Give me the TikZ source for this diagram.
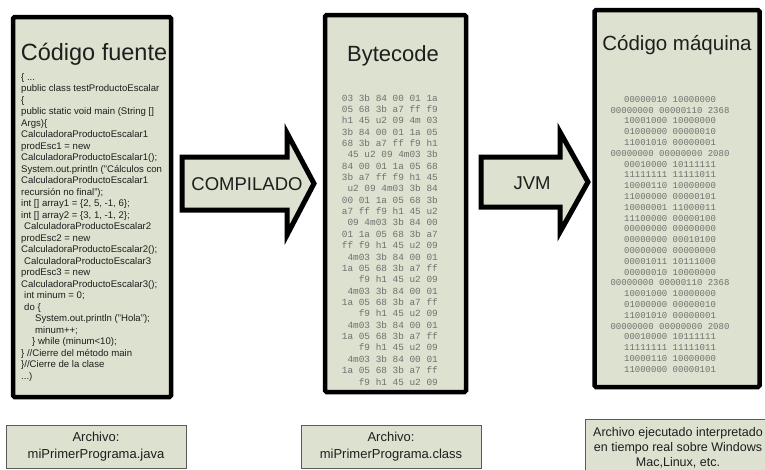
\documentclass[tikz,border=0pt]{standalone}
\usepackage{fontspec}
\setmainfont{Liberation Sans}
\newfontfamily\monof{Liberation Mono}
\definecolor{sage}{HTML}{DCE2CF}
\definecolor{monogray}{HTML}{707070}
\definecolor{ink}{HTML}{1E1E1E}
\definecolor{thinedge}{HTML}{5A5A5A}
\tikzset{
  bigbox/.style={draw=black, line width=4.5pt, fill=sage, rounded corners=1.5pt, inner sep=0pt},
  bigarrow/.style={draw=black, line width=5pt, fill=sage, line join=miter},
  titletext/.style={text=ink, inner sep=0pt, font={\fontsize{20}{24}\selectfont}},
  arrowtext/.style={text=ink, inner sep=0pt, font={\fontsize{18.5}{22}\selectfont}},
  codetext/.style={text=ink, inner sep=0pt, align=left, font={\fontsize{9.6}{11.5}\selectfont}},
  bytetext/.style={text=monogray, inner sep=0pt, align=right, font={\monof\fontsize{9.4}{11.36}\selectfont}},
  bintext/.style={text=monogray, inner sep=0pt, align=center, font={\monof\fontsize{9}{10.8}\selectfont}},
  filebox/.style={draw=thinedge, line width=1pt, fill=sage, text=ink, align=center, inner sep=0pt, font={\fontsize{13}{17}\selectfont}}
}
\begin{document}
\begin{tikzpicture}[x=1pt,y=-1pt]
\useasboundingbox (0,0) rectangle (765,469);
\clip (0,0) rectangle (765,469);
\fill[white] (0,0) rectangle (765,469);

% big boxes
\node[bigbox, minimum width=158, minimum height=380] (src) at (92,207) {};
\node[bigbox, minimum width=141, minimum height=377] (byte) at (395.5,203.5) {};
\node[bigbox, minimum width=165, minimum height=377] (mach) at (677,198.5) {};

% titles
\node[titletext, anchor=base, font={\fontsize{23.5}{28}\selectfont}] (srct) at (94,60) {Código fuente};
\node[titletext, anchor=base, font={\fontsize{22}{26}\selectfont}] (bytet) at (393,61) {Bytecode};
\node[titletext, anchor=base, font={\fontsize{20.5}{24}\selectfont}] (macht) at (677,50) {Código máquina};

% source code
\node[codetext, anchor=north west] (code) at (21,73) {%
\{ ...\\
public class testProductoEscalar\\
\{\\
public static void main (String []\\
Args)\{\\
CalculadoraProductoEscalar1\\
prodEsc1 = new\\
CalculadoraProductoEscalar1();\\
System.out.println ("Cálculos con\\
CalculadoraProductoEscalar1\\
recursión no final");\\
int [] array1 = \{2, 5, -1, 6\};\\
int [] array2 = \{3, 1, -1, 2\};\\
\hspace*{3pt}CalculadoraProductoEscalar2\\
prodEsc2 = new\\
CalculadoraProductoEscalar2();\\
\hspace*{3pt}CalculadoraProductoEscalar3\\
prodEsc3 = new\\
CalculadoraProductoEscalar3();\\
\hspace*{3pt}int minum = 0;\\
\hspace*{3pt}do \{\\
\hspace*{14pt}System.out.println ("Hola");\\
\hspace*{14pt}minum++;\\
\hspace*{11pt}\} while (minum<10);\\
\} //Cierre del método main\\
\}//Cierre de la clase\\
...)};

% bytecode
\node[bytetext, anchor=north east] (bcode) at (438,94) {%
03 3b 84 00 01 1a\\
05 68 3b a7 ff f9\\
h1 45 u2 09 4m 03\\
3b 84 00 01 1a 05\\
68 3b a7 ff f9 h1\\
45 u2 09 4m03 3b\\
84 00 01 1a 05 68\\
3b a7 ff f9 h1 45\\
u2 09 4m03 3b 84\\
00 01 1a 05 68 3b\\
a7 ff f9 h1 45 u2\\
09 4m03 3b 84 00\\
01 1a 05 68 3b a7\\
ff f9 h1 45 u2 09\\
4m03 3b 84 00 01\\
1a 05 68 3b a7 ff\\
f9 h1 45 u2 09\\
4m03 3b 84 00 01\\
1a 05 68 3b a7 ff\\
f9 h1 45 u2 09\\
4m03 3b 84 00 01\\
1a 05 68 3b a7 ff\\
f9 h1 45 u2 09\\
4m03 3b 84 00 01\\
1a 05 68 3b a7 ff\\
f9 h1 45 u2 09};

% machine code
\node[bintext, anchor=north] (bin) at (670,96) {%
00000010 10000000\\
00000000 00000110 2368\\
10001000 10000000\\
01000000 00000010\\
11001010 00000001\\
00000000 00000000 2080\\
00010000 10111111\\
11111111 11111011\\
10000110 10000000\\
11000000 00000101\\
10000001 11000011\\
11100000 00000100\\
00000000 00000000\\
00000000 00010100\\
00000000 00000000\\
00001011 10111000\\
00000010 10000000\\
00000000 00000110 2368\\
10001000 10000000\\
01000000 00000010\\
11001010 00000001\\
00000000 00000000 2080\\
00010000 10111111\\
11111111 11111011\\
10000110 10000000\\
11000000 00000101};

% arrows
\draw[bigarrow] (182,157) -- (287,157) -- (287,133) -- (314,183.5) -- (287,235) -- (287,210) -- (182,210) -- cycle;
\node[arrowtext, anchor=base] (comp) at (247,190) {COMPILADO};
\draw[bigarrow] (481,157) -- (560,157) -- (560,132) -- (588,182) -- (560,232) -- (560,207) -- (481,207) -- cycle;
\node[arrowtext, anchor=base] (jvm) at (532,189) {JVM};

% file boxes
\node[filebox, minimum width=180, minimum height=43] (f1) at (96,446.5) {Archivo:\\miPrimerPrograma.java};
\node[filebox, minimum width=180, minimum height=43] (f2) at (391,446.5) {Archivo:\\miPrimerPrograma.class};
\node[filebox, minimum width=192, minimum height=62, font={\fontsize{12.5}{15}\selectfont}] (f3) at (681,450) {};
\node[text=ink, align=center, inner sep=0pt, font={\fontsize{12.5}{15}\selectfont}] (f3t) at (678,447.5) {Archivo ejecutado interpretado\\en tiempo real sobre Windows\\Mac,Linux, etc.};
\end{tikzpicture}
\end{document}
